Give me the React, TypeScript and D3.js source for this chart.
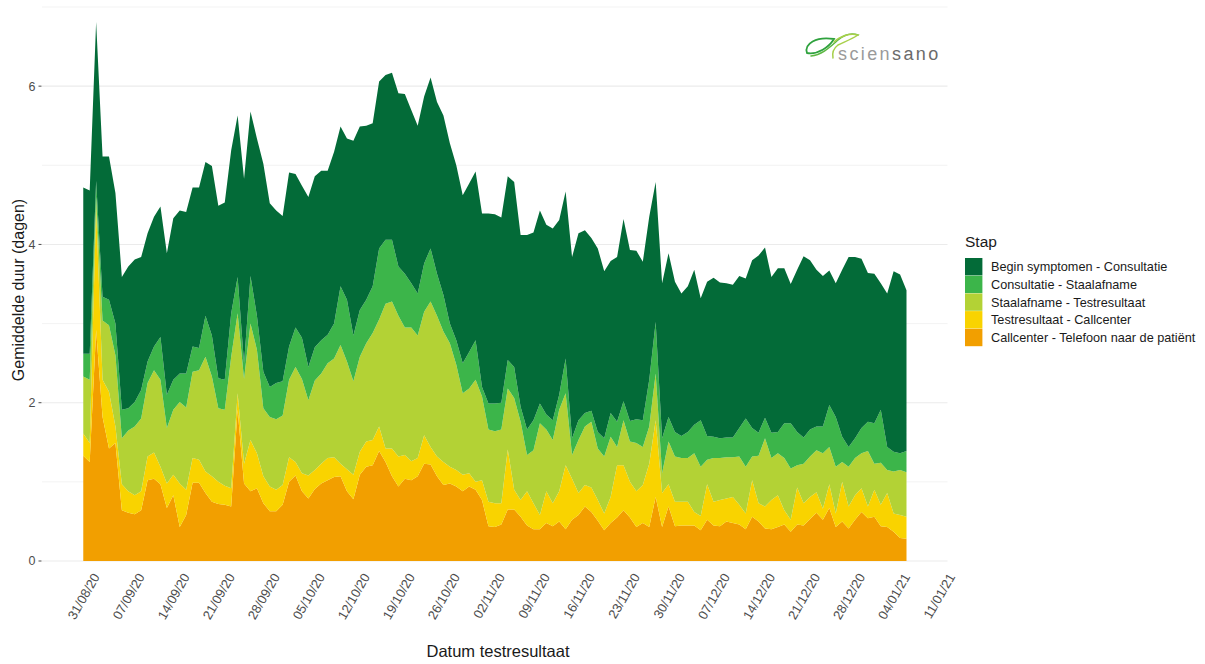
import React from 'react';
import * as d3 from 'd3';

// Daily averages (days) per step, from 30/08/20 to 05/01/21.
const firstDay = '2020-08-30';

const callcenterTelefoon = [
  1.33, 1.25, 2.92, 1.82, 1.42, 1.49, 0.64, 0.61, 0.59, 0.64,
  1.02, 1.04, 0.97, 0.67, 0.83, 0.43, 0.58, 0.99, 0.99, 0.86,
  0.75, 0.72, 0.71, 0.69, 1.91, 0.98, 0.88, 0.92, 0.73, 0.63,
  0.63, 0.71, 1.0, 1.08, 0.88, 0.79, 0.91, 0.98, 1.02, 1.06,
  1.07, 0.88, 0.78, 1.09, 1.19, 1.21, 1.39, 1.25, 1.07, 0.94,
  1.04, 1.02, 1.07, 1.23, 1.22, 1.07, 0.96, 0.98, 0.94, 0.88,
  0.94, 0.9, 0.77, 0.44, 0.43, 0.46, 0.65, 0.65, 0.56, 0.45,
  0.4, 0.4, 0.48, 0.44, 0.5, 0.4, 0.52, 0.58, 0.69, 0.62,
  0.51, 0.39, 0.48, 0.55, 0.64, 0.55, 0.43, 0.48, 0.43, 0.81,
  0.43, 0.69, 0.44, 0.45, 0.45, 0.45, 0.39, 0.52, 0.45, 0.44,
  0.5, 0.48, 0.46, 0.4, 0.56, 0.5, 0.41, 0.4, 0.43, 0.46,
  0.37, 0.46, 0.45, 0.53, 0.61, 0.52, 0.67, 0.43, 0.5, 0.41,
  0.52, 0.62, 0.54, 0.56, 0.44, 0.43, 0.37, 0.29, 0.28,
];

const testresultaatCallcenter = [
  0.28, 0.24, 1.53, 0.47, 0.72, 0.21, 0.33, 0.27, 0.24, 0.24,
  0.3, 0.33, 0.22, 0.31, 0.26, 0.55, 0.32, 0.31, 0.29, 0.27,
  0.32, 0.28, 0.24, 0.23, 0.21, 0.25, 0.65, 0.44, 0.34, 0.31,
  0.27, 0.25, 0.31, 0.17, 0.23, 0.29, 0.24, 0.25, 0.28, 0.25,
  0.16, 0.28, 0.31, 0.29, 0.32, 0.32, 0.31, 0.17, 0.35, 0.38,
  0.3, 0.24, 0.23, 0.36, 0.22, 0.25, 0.29, 0.21, 0.21, 0.21,
  0.17, 0.1, 0.25, 0.31, 0.3, 0.27, 0.76, 0.25, 0.21, 0.43,
  0.33, 0.18, 0.4, 0.29, 0.38, 0.81, 0.52, 0.28, 0.27, 0.31,
  0.26, 0.21, 0.33, 0.66, 0.57, 0.45, 0.45, 0.48, 0.8, 0.97,
  0.43, 0.28, 0.31, 0.3, 0.3, 0.17, 0.18, 0.45, 0.3, 0.33,
  0.29, 0.33, 0.25, 0.2, 0.46, 0.23, 0.28, 0.37, 0.4, 0.18,
  0.15, 0.47, 0.28, 0.28, 0.26, 0.14, 0.3, 0.17, 0.5, 0.28,
  0.31, 0.3, 0.15, 0.34, 0.27, 0.43, 0.23, 0.29, 0.28,
];

const staalafnameTestresultaat = [
  0.72, 0.8, 0.15, 0.75, 0.84, 0.9, 0.58, 0.77, 0.87, 0.92,
  0.93, 1.04, 1.1, 0.7, 0.82, 1.03, 1.04, 1.09, 1.13, 1.45,
  1.26, 0.93, 0.96, 1.66, 1.01, 1.07, 1.47, 1.31, 0.86, 0.88,
  0.89, 0.88, 0.98, 1.2, 1.19, 0.95, 1.13, 1.14, 1.2, 1.25,
  1.5, 1.36, 1.18, 1.2, 1.24, 1.35, 1.35, 1.83, 1.86, 1.78,
  1.61, 1.69, 1.55, 1.56, 1.84, 1.78, 1.65, 1.56, 1.33, 1.03,
  1.07, 1.29, 1.06, 0.91, 0.91, 0.93, 0.77, 1.16, 0.99, 0.46,
  0.67, 1.16, 0.78, 0.8, 1.03, 0.91, 0.3, 0.67, 0.74, 0.83,
  0.65, 0.72, 0.76, 0.23, 0.57, 0.51, 0.61, 0.48, 0.47, 0.59,
  0.25, 0.54, 0.57, 0.55, 0.55, 0.74, 0.62, 0.31, 0.55, 0.53,
  0.52, 0.5, 0.61, 0.59, 0.3, 0.6, 0.86, 0.53, 0.53, 0.66,
  0.65, 0.28, 0.5, 0.51, 0.53, 0.7, 0.47, 0.59, 0.25, 0.5,
  0.47, 0.44, 0.7, 0.33, 0.53, 0.29, 0.53, 0.57, 0.56,
];

const consultatieStaalafname = [
  0.29, 0.33, 0.2, 0.3, 0.32, 0.4, 0.36, 0.28, 0.31, 0.36,
  0.27, 0.3, 0.54, 0.42, 0.38, 0.36, 0.43, 0.32, 0.28, 0.52,
  0.52, 0.38, 0.38, 0.55, 0.46, 0.2, 0.6, 0.43, 0.46, 0.38,
  0.46, 0.43, 0.42, 0.5, 0.52, 0.42, 0.42, 0.42, 0.36, 0.44,
  0.74, 0.78, 0.58, 0.59, 0.55, 0.59, 0.9, 0.81, 0.78, 0.62,
  0.68, 0.56, 0.53, 0.61, 0.67, 0.53, 0.46, 0.25, 0.31, 0.38,
  0.46, 0.5, 0.12, 0.33, 0.35, 0.34, 0.36, 0.39, 0.19, 0.32,
  0.38, 0.25, 0.19, 0.25, 0.19, 0.44, 0.21, 0.25, 0.17, 0.14,
  0.21, 0.23, 0.3, 0.32, 0.24, 0.26, 0.3, 0.34, 0.59, 0.65,
  0.44, 0.31, 0.31, 0.28, 0.33, 0.36, 0.59, 0.3, 0.27, 0.25,
  0.25, 0.25, 0.36, 0.61, 0.36, 0.29, 0.26, 0.32, 0.27, 0.44,
  0.57, 0.42, 0.33, 0.34, 0.3, 0.34, 0.53, 0.63, 0.32, 0.25,
  0.25, 0.32, 0.37, 0.51, 0.67, 0.29, 0.25, 0.21, 0.27,
];

const symptomenConsultatie = [
  2.1, 2.06, 2.01, 1.77, 1.81, 1.65, 1.68, 1.79, 1.8, 1.68,
  1.62, 1.64, 1.65, 1.79, 2.04, 2.06, 2.04, 2.01, 2.03, 1.94,
  2.14, 2.18, 2.24, 2.06, 2.04, 2.33, 2.08, 2.24, 2.63, 2.32,
  2.18, 2.09, 2.2, 1.94, 1.92, 2.15, 2.16, 2.14, 2.07, 2.17,
  2.02, 2.04, 2.46, 2.32, 2.2, 2.06, 2.11, 2.08, 2.11, 2.19,
  2.27, 2.19, 2.12, 2.11, 2.16, 2.17, 2.27, 2.28, 2.21, 2.12,
  2.13, 2.13, 2.19, 2.4, 2.39, 2.34, 2.32, 2.34, 2.17, 2.46,
  2.37, 2.44, 2.4, 2.42, 2.21, 2.11, 2.29, 2.36, 2.31, 2.18,
  2.32, 2.11, 1.92, 2.08, 2.3, 2.16, 2.13, 2.0, 2.06, 1.77,
  1.96, 2.07, 1.9, 1.8, 1.84, 1.96, 1.54, 1.95, 2.01, 1.97,
  1.95, 1.93, 1.92, 1.77, 2.12, 2.24, 2.15, 1.97, 2.07, 1.96,
  1.76, 2.05, 2.29, 2.14, 1.98, 1.9, 1.7, 1.69, 2.11, 2.4,
  2.29, 2.14, 1.88, 1.89, 1.6, 1.94, 2.28, 2.26, 2.03,
];

// Bottom to top in the stack.
const steps = [
  'Callcenter - Telefoon naar de patiënt',
  'Testresultaat - Callcenter',
  'Staalafname - Testresultaat',
  'Consultatie - Staalafname',
  'Begin symptomen - Consultatie',
];
const stepColors = ['#F29F00', '#F9D300', '#B3D235', '#3CB54A', '#036B38'];

const xTickLabels = [
  '31/08/20', '07/09/20', '14/09/20', '21/09/20', '28/09/20', '05/10/20',
  '12/10/20', '19/10/20', '26/10/20', '02/11/20', '09/11/20', '16/11/20',
  '23/11/20', '30/11/20', '07/12/20', '14/12/20', '21/12/20', '28/12/20',
  '04/01/21', '11/01/21',
];
const yTicks = [0, 2, 4, 6];
const yMinor = [1, 3, 5, 7];

const W = 1205;
const H = 664;
const FONT = 'Liberation Sans, Arial, Helvetica, sans-serif';

export default function App() {
  const series = [
    callcenterTelefoon,
    testresultaatCallcenter,
    staalafnameTestresultaat,
    consultatieStaalafname,
    symptomenConsultatie,
  ];
  const start = d3.utcParse('%Y-%m-%d')(firstDay) as Date;
  const rows = callcenterTelefoon.map((_, i) => {
    const row: any = { date: d3.utcDay.offset(start, i) };
    steps.forEach((s, k) => (row[s] = series[k][i]));
    return row;
  });
  const end = rows[rows.length - 1].date;

  // ggplot-like 5% expansion of the date range
  const spanH = (end.getTime() - start.getTime()) / 3600000;
  const x = d3
    .scaleUtc()
    .domain([d3.utcHour.offset(start, -spanH * 0.05), d3.utcHour.offset(end, spanH * 0.05)])
    .range([42, 947.5]);
  const y = d3.scaleLinear().domain([0, 7]).range([561, 7]);

  const stacked = d3.stack<any>().keys(steps)(rows);
  const area = d3
    .area<any>()
    .x((d) => x(d.data.date))
    .y0((d) => y(d[0]))
    .y1((d) => y(d[1]));

  const parseTick = d3.utcParse('%d/%m/%y');

  const legendOrder = [...steps].reverse();
  const legendColors = [...stepColors].reverse();

  return (
    <svg
      width={W}
      height={H}
      style={{ position: 'absolute', left: 0, top: 0, background: '#fff' }}
      fontFamily={FONT}
    >
      {/* grid */}
      {yMinor.map((v) => (
        <line key={'m' + v} x1={42} x2={947.5} y1={y(v)} y2={y(v)} stroke="#EBEBEB" strokeWidth={0.6} />
      ))}
      {yTicks.map((v) => (
        <line key={'g' + v} x1={42} x2={947.5} y1={y(v)} y2={y(v)} stroke="#EBEBEB" strokeWidth={1.1} />
      ))}

      {/* stacked areas */}
      {stacked.map((s, k) => (
        <path key={s.key} d={area(s) as string} fill={stepColors[k]} />
      ))}

      {/* y axis */}
      {yTicks.map((v) => (
        <g key={'yt' + v}>
          <line x1={38.5} x2={41.5} y1={y(v)} y2={y(v)} stroke="#4D4D4D" strokeWidth={1} />
          <text x={35.5} y={y(v)} dy="0.35em" textAnchor="end" fontSize={12.5} fill="#4D4D4D">
            {v}
          </text>
        </g>
      ))}
      <text
        transform={`translate(24,290) rotate(-90)`}
        textAnchor="middle"
        fontSize={16}
        fill="#1a1a1a"
      >
        Gemiddelde duur (dagen)
      </text>

      {/* x axis */}
      {xTickLabels.map((lab) => {
        const px = x(parseTick(lab) as Date);
        return (
          <text
            key={lab}
            transform={`translate(${px + 2.5},572) rotate(-60)`}
            textAnchor="end"
            dy="0.71em"
            fontSize={13}
            fill="#4D4D4D"
          >
            {lab}
          </text>
        );
      })}
      <text x={498} y={657} textAnchor="middle" fontSize={16.5} fill="#1a1a1a">
        Datum testresultaat
      </text>

      {/* legend */}
      <text x={965} y={247} fontSize={15.5} fill="#1a1a1a">
        Stap
      </text>
      {legendOrder.map((lab, i) => {
        const cy = 266.7 + i * 17.7;
        return (
          <g key={lab}>
            <rect x={965} y={cy - 8.7} width={17.4} height={17.4} fill={legendColors[i]} />
            <text x={991} y={cy} dy="0.35em" fontSize={12.7} fill="#1a1a1a">
              {lab}
            </text>
          </g>
        );
      })}

      {/* logo */}
      <g fill="none" strokeLinecap="round">
        <path d="M807 53 C804 44, 816 36, 834 39 C829 47, 818 55, 807 53 Z" stroke="#2FA23E" strokeWidth={1.8} />
        <path d="M811 56 C822 55, 830 47, 838 40 C845 34, 852 33, 858 35" stroke="#5DB843" strokeWidth={1.6} />
        <path d="M834 42 C840 36, 850 33, 858 35 C852 39, 844 42, 838 45 C834 48, 832 53, 833 58" stroke="#A8D04A" strokeWidth={1.5} />
      </g>
      <text x={838} y={60} fontSize={18} letterSpacing={2.4}>
        <tspan fill="#9A9A9A">scien</tspan>
        <tspan fill="#6B6B6B">sano</tspan>
      </text>
    </svg>
  );
}
